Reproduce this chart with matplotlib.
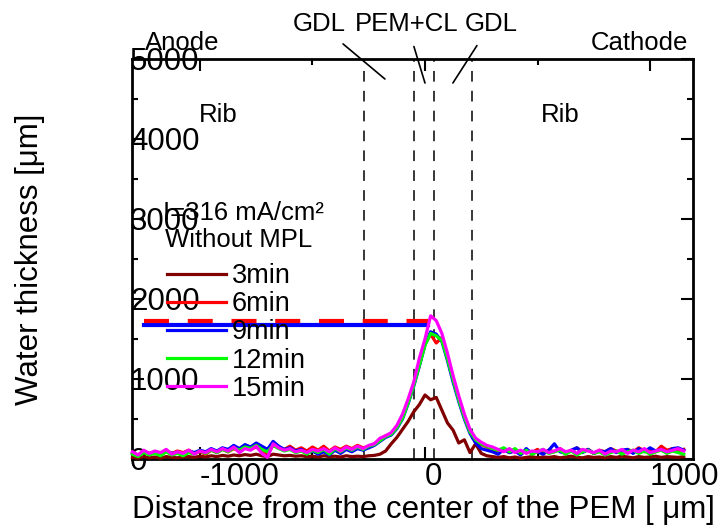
import numpy as np
import matplotlib
matplotlib.use('Agg')
import matplotlib.pyplot as plt
from matplotlib.ticker import MultipleLocator

plt.rcParams['font.family'] = ['Liberation Sans', 'DejaVu Sans']
plt.rcParams['axes.unicode_minus'] = False

# sample positions along the profile [um]
pos = np.arange(-1300, 1151, 25)

# water thickness [um]
# (-1300..-325 | -300..300 | 325..1150)
t3 = [20, 10, 30, 15, 25, 10, 30, 20, 15, 25,
      30, 20, 35, 25, 40, 30, 45, 35, 50, 40,
      55, 45, 60, 40, 30, 60, 50, 40, 45, 35,
      40, 30, 35, 25, 40, 30, 35, 25, 40, 30,
      35, 30, 40, 45, 60, 100, 190, 270, 370, 470,
      590, 680, 800, 740, 770, 610, 450, 360, 200, 240,
      80, 190, 70, 40, 30,
      20, 30, 15, 25, 10, 20, 30, 15, 25, 20,
      30, 15, 25, 35, 20, 15, 30, 20, 25, 15,
      30, 20, 35, 25, 15, 30, 20, 25, 35, 20,
      30, 25, 20, 30]
t6 = [80, 50, 100, 70, 90, 60, 110, 70, 100, 80,
      110, 70, 90, 60, 110, 80, 120, 90, 130, 100,
      140, 120, 150, 100, 60, 170, 140, 120, 160, 110,
      140, 100, 150, 110, 160, 100, 150, 120, 160, 130,
      170, 140, 160, 190, 240, 290, 320, 400, 520, 720,
      940, 1180, 1440, 1560, 1450, 1520, 1260, 1010, 760, 530,
      350, 240, 180, 150, 120,
      100, 130, 80, 120, 60, 100, 80, 120, 70, 110,
      90, 130, 80, 100, 140, 90, 120, 70, 110, 90,
      130, 100, 80, 120, 90, 140, 100, 120, 90, 160,
      110, 130, 100, 120]
t9 = [70, 40, 90, 60, 80, 50, 100, 70, 80, 60,
      100, 80, 110, 90, 130, 100, 140, 120, 170, 130,
      180, 150, 200, 160, 120, 220, 160, 120, 140, 100,
      120, 70, 100, 60, 90, 50, 110, 70, 120, 90,
      130, 110, 140, 170, 220, 270, 300, 380, 500, 690,
      910, 1160, 1430, 1590, 1560, 1470, 1230, 960, 720, 500,
      320, 200, 130, 110, 90,
      60, 120, 80, 100, 50, 130, 70, 90, 60, 110,
      190, 90, 70, 110, 140, 80, 120, 70, 100, 90,
      130, 80, 110, 120, 70, 130, 90, 140, 100, 120,
      80, 130, 140, 110]
t12 = [60, 30, 80, 50, 70, 40, 90, 50, 70, 40,
       80, 60, 100, 70, 110, 80, 120, 90, 140, 110,
       150, 130, 170, 120, 90, 170, 130, 100, 120, 80,
       100, 60, 110, 80, 120, 60, 130, 90, 140, 110,
       150, 120, 160, 180, 230, 280, 310, 390, 510, 700,
       920, 1170, 1420, 1570, 1540, 1480, 1250, 990, 740, 520,
       340, 240, 190, 160, 130,
       110, 140, 90, 130, 70, 110, 60, 90, 120, 70,
       90, 110, 60, 100, 50, 90, 110, 70, 90, 50,
       80, 100, 60, 90, 110, 70, 100, 60, 90, 110,
       70, 100, 80, 60]
t15 = [90, 50, 110, 70, 100, 80, 120, 60, 90, 70,
       110, 60, 100, 80, 120, 90, 130, 100, 150, 80,
       130, 110, 160, 70, 20, 190, 140, 110, 130, 90,
       110, 80, 120, 100, 130, 90, 140, 100, 150, 120,
       160, 130, 170, 190, 260, 290, 330, 420, 560, 750,
       960, 1260, 1500, 1790, 1730, 1570, 1320, 1040, 790, 560,
       370, 260, 210, 170, 150,
       120, 90, 130, 80, 110, 70, 100, 90, 120, 80,
       100, 130, 90, 110, 70, 120, 100, 80, 110, 60,
       100, 90, 120, 70, 110, 90, 130, 80, 100, 120,
       90, 110, 130, 100]

series = [('3min', t3, '#800000'), ('6min', t6, '#ff0000'),
          ('9min', t9, '#0000ff'), ('12min', t12, '#00ff00'),
          ('15min', t15, '#ff00ff')]

# stray horizontal lines in the original figure
hline_x = [-1250, 15]
hline_red = 1725
hline_blue = 1680

# layer boundaries (GDL | PEM+CL | GDL)
bounds = [-270, -50, 40, 210]

fig = plt.figure(figsize=(7.21, 5.29), dpi=100)
ax = fig.add_axes([132/721, 1-459/529, 561/721, 400/529])

for b in bounds:
    ax.axvline(b, color='k', lw=1.1, dashes=(7, 6), zorder=1)

ax.plot(hline_x, [hline_blue]*2, color='#0000ff', lw=3, zorder=2)
ax.plot(hline_x, [hline_red]*2, color='#ff0000', lw=3, dashes=(6, 4.5), zorder=2)

for name, vals, c in series:
    ax.plot(pos, vals, color=c, lw=2.3, label=name, zorder=3, clip_on=False)

ax.set_xlim(-1302, 1191)
ax.set_ylim(0, 5000)
ax.set_xticks([-1000, 0, 1000])
ax.set_yticks([0, 1000, 2000, 3000, 4000, 5000])
ax.xaxis.set_minor_locator(MultipleLocator(500))
ax.yaxis.set_minor_locator(MultipleLocator(500))
ax.tick_params(which='both', direction='in', top=True, right=True, width=1.5)
ax.tick_params(which='major', length=8.5, labelsize=22.5)
ax.tick_params(which='minor', length=4.5)
ax.tick_params(axis='y', pad=1.5)
ax.tick_params(axis='x', pad=2)
plt.setp(ax.get_xticklabels(), ha='left')
plt.setp(ax.get_yticklabels(), ha='left')
for s in ax.spines.values():
    s.set_linewidth(2)

ax.set_xlabel('Distance from the center of the PEM [ \u03bcm]', fontsize=22.5)
ax.set_ylabel('Water thickness [\u03bcm]', fontsize=22.5)
ax.xaxis.set_label_coords(0.52, -0.09)
ax.yaxis.set_label_coords(-0.155, 0.5)

fs = 18.5
ax.text(-1244, 5200, 'Anode', fontsize=fs, ha='left', va='center', clip_on=False)
ax.text(1169, 5200, 'Cathode', fontsize=fs, ha='right', va='center', clip_on=False)
ax.text(-920, 4300, 'Rib', fontsize=fs, ha='center', va='center')
ax.text(600, 4300, 'Rib', fontsize=fs, ha='center', va='center')
ax.annotate('GDL', xy=(-178, 4750), xytext=(-471, 5440), fontsize=fs,
            ha='center', va='center', annotation_clip=False,
            arrowprops=dict(arrowstyle='-', lw=1.2, color='k', shrinkA=6, shrinkB=0))
ax.annotate('PEM+CL', xy=(0, 4700), xytext=(-80, 5440), fontsize=fs,
            ha='center', va='center', annotation_clip=False,
            arrowprops=dict(arrowstyle='-', lw=1.2, color='k', shrinkA=6, shrinkB=0))
ax.annotate('GDL', xy=(124, 4700), xytext=(293, 5440), fontsize=fs,
            ha='center', va='center', annotation_clip=False,
            arrowprops=dict(arrowstyle='-', lw=1.2, color='k', shrinkA=6, shrinkB=0))

ax.text(-1164, 3075, 'I=316 mA/cm\u00b2', fontsize=fs, ha='left', va='center')
ax.text(-1155, 2737, 'Without MPL', fontsize=fs, ha='left', va='center')

ax.legend(loc='upper left', bbox_to_anchor=(-1147, 2450), bbox_transform=ax.transData,
          frameon=False, fontsize=19.5, handlelength=2.2, handletextpad=0.2,
          labelspacing=0.08, borderpad=0, borderaxespad=0)

fig.savefig('out.png', dpi=100)
